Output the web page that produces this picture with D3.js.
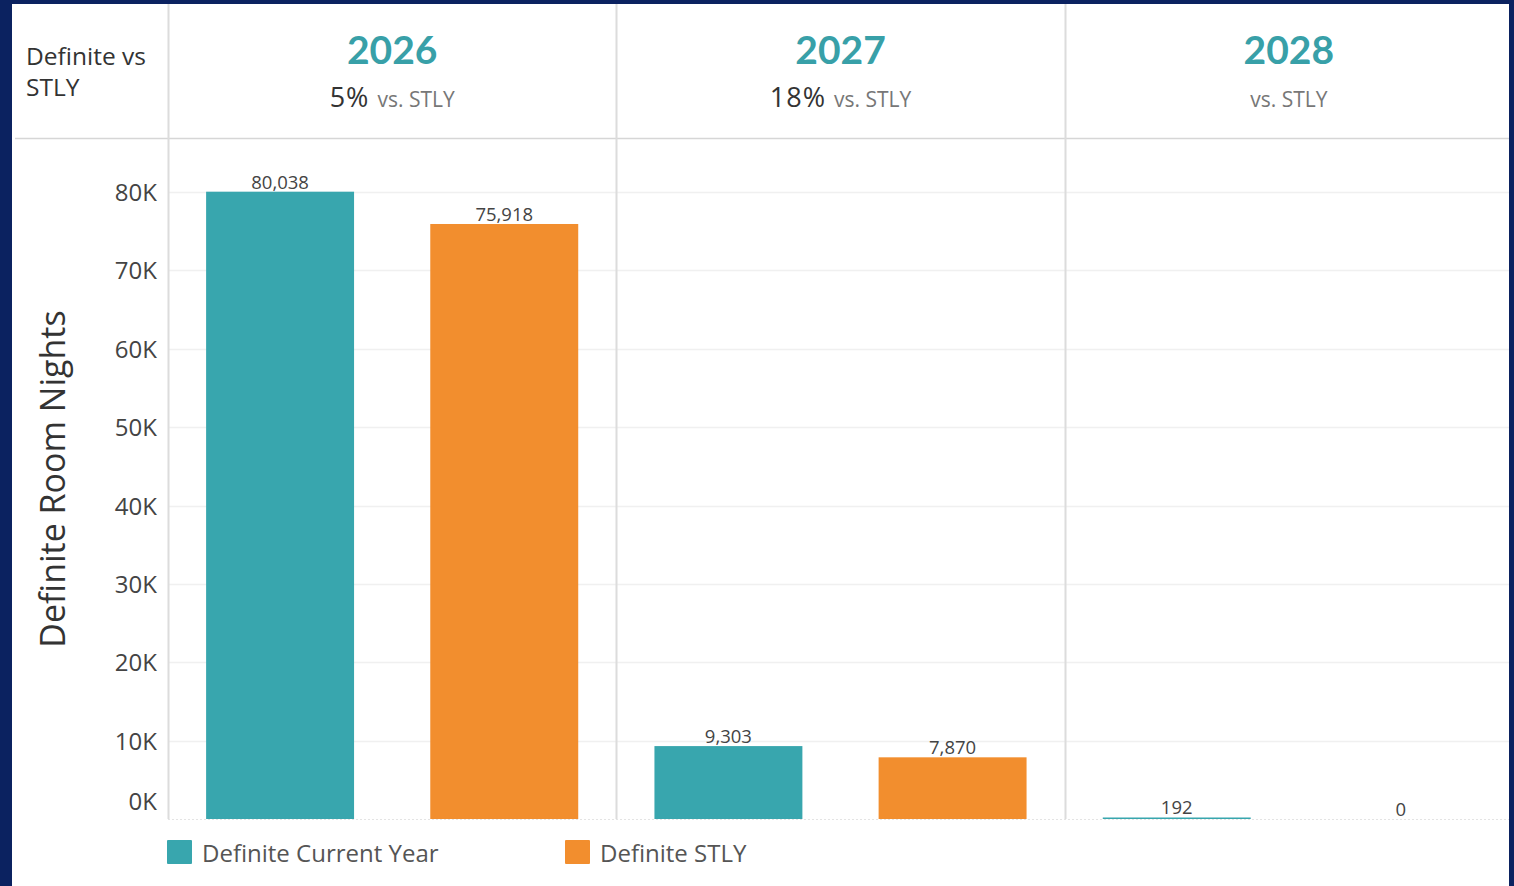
<!DOCTYPE html>
<html>
<head>
<meta charset="utf-8">
<script src="https://cdn.jsdelivr.net/npm/d3@7"></script>
<style>
  html, body { margin: 0; padding: 0; background: #0b2260; overflow: hidden; }
  svg { display: block; }
  text { font-family: "Open Sans", Lato, sans-serif; }
  text.year { font-family: Lato, "Open Sans", sans-serif; }
</style>
</head>
<body>
<svg id="chart" width="1514" height="886"></svg>
<script>
// Definite room nights by year: current year vs same time last year (STLY)
const years = ["2026", "2027", "2028"];
const seriesNames = ["Definite Current Year", "Definite STLY"];
const currentYear = [80038, 9303, 192];
const stly = [75918, 7870, 0];
const pctVsStly = ["5%", "18%", ""];
const yTicks = [0, 10000, 20000, 30000, 40000, 50000, 60000, 70000, 80000];
const colors = ["#38a6ae", "#f28e2e"];

const W = 1514, H = 886;
const panel = { left: 12, top: 4, right: 1509 };
const plot = { left: 168, right: 1513, top: 138, bottom: 819 };

const svg = d3.select("#chart");

// white panel
svg.append("rect")
  .attr("x", panel.left).attr("y", panel.top)
  .attr("width", panel.right - panel.left).attr("height", H - panel.top)
  .attr("fill", "#ffffff");

svg.append("clipPath").attr("id", "panelClip")
  .append("rect")
  .attr("x", panel.left).attr("y", panel.top)
  .attr("width", panel.right - panel.left).attr("height", H - panel.top);

const g = svg.append("g").attr("clip-path", "url(#panelClip)");

// scales
const x = d3.scaleBand().domain(years).range([plot.left, plot.right]);
const xs = d3.scaleBand().domain(seriesNames).range([0, x.bandwidth()])
  .paddingInner(0.34).paddingOuter(0.17);
const y = d3.scaleLinear().domain([0, 80000]).range([plot.bottom, 192]);

// horizontal gridlines
g.append("g").selectAll("line").data(yTicks.filter(d => d > 0)).join("line")
  .attr("x1", plot.left).attr("x2", panel.right)
  .attr("y1", d => Math.round(y(d)) + 0.5).attr("y2", d => Math.round(y(d)) + 0.5)
  .attr("stroke", "#f0f0f0").attr("stroke-width", 1.5);

// baseline (dotted, faint)
g.append("line")
  .attr("x1", plot.left).attr("x2", panel.right)
  .attr("y1", plot.bottom + 0.5).attr("y2", plot.bottom + 0.5)
  .attr("stroke", "#e4e4e4").attr("stroke-dasharray", "2,2");

// header separator
g.append("line")
  .attr("x1", 15).attr("x2", panel.right)
  .attr("y1", plot.top + 0.5).attr("y2", plot.top + 0.5)
  .attr("stroke", "#d6d6d6").attr("stroke-width", 1.5);

// column separators
g.append("g").selectAll("line").data(years).join("line")
  .attr("x1", d => Math.round(x(d)) + 0.5).attr("x2", d => Math.round(x(d)) + 0.5)
  .attr("y1", panel.top).attr("y2", plot.bottom)
  .attr("stroke", "#dcdcdc").attr("stroke-width", 2);

// row header
const rh = g.append("text").attr("fill", "#333").attr("font-size", 24.5);
rh.append("tspan").attr("x", 26).attr("y", 65).text("Definite vs");
rh.append("tspan").attr("x", 26).attr("y", 96).text("STLY");

// column headers
const hdr = g.append("g").selectAll("g").data(years).join("g")
  .attr("transform", d => `translate(${x(d) + x.bandwidth() / 2},0)`);
hdr.append("text").attr("class", "year")
  .attr("y", 64).attr("text-anchor", "middle")
  .attr("font-size", 39).attr("font-weight", 700).attr("fill", "#38a0a8")
  .text(d => d);
const sub = hdr.append("text").attr("y", 107).attr("text-anchor", "middle");
sub.append("tspan").attr("font-size", 27).attr("letter-spacing", 1).attr("fill", "#333")
  .text((d, i) => pctVsStly[i] ? pctVsStly[i] + " " : "");
sub.append("tspan").attr("font-size", 21).attr("fill", "#777").text("vs. STLY");

// y axis labels
g.append("g").selectAll("text").data(yTicks).join("text")
  .attr("x", 157)
  .attr("y", d => d === 0 ? y(d) - 9 : y(d) + 9)
  .attr("text-anchor", "end").attr("font-size", 24).attr("fill", "#444")
  .text(d => d3.format("d")(d / 1000) + "K");

// y axis title
g.append("text")
  .attr("transform", `translate(65,479) rotate(-90)`)
  .attr("text-anchor", "middle").attr("font-size", 34).attr("fill", "#333")
  .text("Definite Room Nights");

// bars
const rows = years.map((yr, i) => ({ year: yr, values: [currentYear[i], stly[i]] }));
const colG = g.append("g").selectAll("g").data(rows).join("g")
  .attr("transform", d => `translate(${x(d.year)},0)`);

const cells = colG.selectAll("g.cell")
  .data(d => d.values.map((v, j) => ({ v, s: seriesNames[j], j })))
  .join("g").attr("class", "cell");

cells.append("rect")
  .attr("x", d => xs(d.s)).attr("width", xs.bandwidth())
  .attr("y", d => y(d.v)).attr("height", d => plot.bottom - y(d.v))
  .attr("fill", d => colors[d.j]);

cells.append("text")
  .attr("x", d => xs(d.s) + xs.bandwidth() / 2)
  .attr("y", d => y(d.v) - 3)
  .attr("text-anchor", "middle").attr("font-size", 18.5).attr("fill", "#444")
  .text(d => d3.format(",")(d.v));

// legend
const lg = g.append("g").selectAll("g").data(seriesNames).join("g")
  .attr("transform", (d, i) => `translate(${[167, 565][i]},840)`);
lg.append("rect").attr("width", 25).attr("height", 24).attr("rx", 1)
  .attr("fill", (d, i) => colors[i]);
lg.append("text").attr("x", 35).attr("y", 22)
  .attr("font-size", 24).attr("fill", "#555").text(d => d);
</script>
</body>
</html>
